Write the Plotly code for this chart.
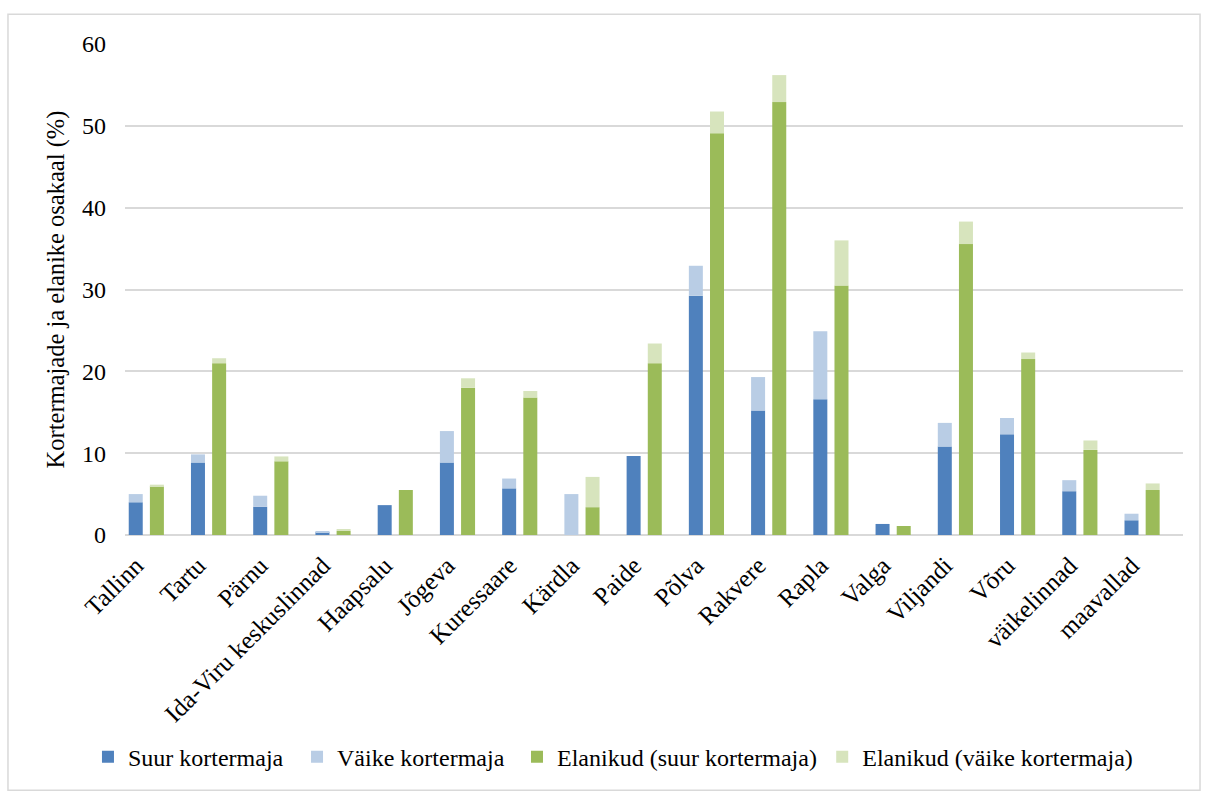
import plotly.graph_objects as go

# Kortermajade ja elanike osakaal (%) linnade kaupa
categories = ["Tallinn", "Tartu", "Pärnu", "Ida-Viru keskuslinnad", "Haapsalu",
              "Jõgeva", "Kuressaare", "Kärdla", "Paide", "Põlva", "Rakvere",
              "Rapla", "Valga", "Viljandi", "Võru", "väikelinnad", "maavallad"]

suur_kortermaja = [4.0, 8.85, 3.45, 0.35, 3.65, 8.85, 5.7, 0.0, 9.65, 29.25,
                   15.2, 16.6, 1.35, 10.8, 12.3, 5.35, 1.8]
vaike_kortermaja = [1.0, 1.0, 1.35, 0.05, 0.0, 3.85, 1.2, 5.0, 0.0, 3.65,
                    4.1, 8.3, 0.0, 2.9, 2.0, 1.35, 0.8]
elanikud_suur = [5.95, 21.0, 9.0, 0.5, 5.5, 18.0, 16.8, 3.4, 21.0, 49.1,
                 52.9, 30.5, 1.1, 35.55, 21.5, 10.4, 5.5]
elanikud_vaike = [0.2, 0.6, 0.6, 0.2, 0.0, 1.15, 0.8, 3.7, 2.4, 2.65,
                  3.3, 5.5, 0.0, 2.75, 0.8, 1.15, 0.8]

y_ticks = [0, 10, 20, 30, 40, 50, 60]

FONT = "Liberation Serif"
BAR_W = 0.225
BLUE_OFF = -0.44
GREEN_OFF = -0.1

series = [
    ("Suur kortermaja", suur_kortermaja, None, BLUE_OFF, "#4F81BD", "legend", -0.035),
    ("Väike kortermaja", vaike_kortermaja, suur_kortermaja, BLUE_OFF, "#B9CDE5", "legend2", 0.1626),
    ("Elanikud (suur kortermaja)", elanikud_suur, None, GREEN_OFF, "#9BBB59", "legend3", 0.3705),
    ("Elanikud (väike kortermaja)", elanikud_vaike, elanikud_suur, GREEN_OFF, "#D7E4BD", "legend4", 0.659),
]

fig = go.Figure()
legend_layout = {}
for name, vals, base, off, color, leg, lx in series:
    fig.add_trace(go.Bar(
        name=name, x=categories, y=vals, base=base,
        offset=off, width=BAR_W, legend=leg, showlegend=True,
        marker=dict(color=color, line=dict(width=0)),
    ))
    legend_layout[leg] = dict(
        orientation="h", x=lx, xanchor="left", y=-0.4525, yanchor="middle",
        font=dict(family=FONT, size=24, color="#000000"),
        itemwidth=30, bgcolor="rgba(0,0,0,0)",
    )

fig.update_layout(
    width=1208, height=791,
    margin=dict(l=125, r=25, t=44, b=252),
    barmode="overlay", showlegend=True,
    plot_bgcolor="white", paper_bgcolor="white",
    font=dict(family=FONT, size=24, color="#000000"),
    shapes=[dict(
        type="rect", xref="paper", yref="paper",
        x0=-0.1106, x1=1.0161, y0=-0.52, y1=1.0606,
        line=dict(color="#D9D9D9", width=1.5), fillcolor="rgba(0,0,0,0)",
        layer="below",
    )],
    **legend_layout,
)

fig.update_xaxes(
    type="category", tickangle=-45, showgrid=False, showline=False,
    ticks="", ticklabelshift=-20, ticklabelstandoff=10,
    tickfont=dict(family=FONT, size=25, color="#000000"),
)
fig.update_yaxes(
    range=[0, 60], tickvals=y_ticks, showgrid=True, gridcolor="#D9D9D9", gridwidth=1.5,
    zeroline=True, zerolinecolor="#D9D9D9", zerolinewidth=1.5, showline=False,
    ticks="", ticklabelstandoff=18,
    tickfont=dict(family=FONT, size=24, color="#000000"),
    title=dict(text="Kortermajade ja elanike osakaal (%)", standoff=10,
               font=dict(family=FONT, size=24.5, color="#000000")),
)

fig.write_html("out.html")
